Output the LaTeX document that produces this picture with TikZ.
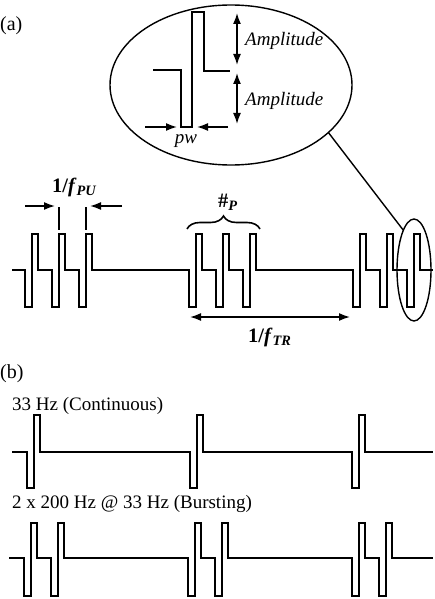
\documentclass[tikz,border=0pt]{standalone}
\usepackage{fontspec}
\setmainfont{Liberation Serif}
\usetikzlibrary{arrows.meta,shapes.geometric,decorations.pathreplacing}
\begin{document}
\begin{tikzpicture}[x=1pt,y=-1pt,
  wave/.style={line width=2pt, line join=miter},
  tip/.style={-{Latex[length=11pt,width=8pt]}},
  dim/.style={line width=1.6pt, tip},
  ddim/.style={line width=1.6pt, {Latex[length=11pt,width=8pt]}-{Latex[length=11pt,width=8pt]}},
  lbl/.style={inner sep=0pt, anchor=base west, font=\fontsize{19}{22}\selectfont},
  blbl/.style={inner sep=0pt, anchor=base west, font=\fontsize{20.5}{24}\selectfont\bfseries},
  ilbl/.style={inner sep=0pt, anchor=base west, font=\fontsize{19}{22}\selectfont\itshape},
  ell/.style={draw, ellipse, line width=1.4pt, inner sep=0pt, outer sep=0pt}
]
\useasboundingbox (0,0) rectangle (434,599);

% ---------------- panel (a) ----------------
\node[lbl, font=\fontsize{20}{24}\selectfont] (la) at (0,31) {(a)};

% pulse train
\draw[wave] (12,270) foreach \x in {25,52,79,189,216,243,353,380,407} {
  -- (\x,270) -- (\x,307) -- ({\x+7},307) -- ({\x+7},234) -- ({\x+13},234) -- ({\x+13},270) }
  -- (433,270);

% magnifier ellipses
\node[ell, minimum width=242pt, minimum height=160pt] (big) at (231,85) {};
\node[ell, minimum width=34pt, minimum height=102pt] (sm) at (414,270) {};
\draw[line width=1.4pt] (sm.105) -- (big.-26);

% enlarged pulse
\draw[wave] (153,70) -- (181,70) -- (181,127) -- (192,127) -- (192,12) -- (204,12) -- (204,71) -- (230,71);

% amplitude arrows
\coordinate (a1t) at (237,13);  \coordinate (a1b) at (237,65);
\coordinate (a2t) at (237,73);  \coordinate (a2b) at (237,124);
\draw[ddim] (a1t) -- (a1b);
\draw[ddim] (a2t) -- (a2b);
\node[ilbl] (amp1) at (245,46) {Amplitude};
\node[ilbl] (amp2) at (245,106) {Amplitude};

% pw arrows
\coordinate (pwl0) at (145,127); \coordinate (pwl1) at (177,127);
\coordinate (pwr0) at (228,127); \coordinate (pwr1) at (197,127);
\draw[dim] (pwl0) -- (pwl1);
\draw[dim] (pwr0) -- (pwr1);
\node[ilbl, anchor=base] (pw) at (186,143) {pw};

% 1/f_PU
\node[blbl] (fpu) at (52,192) {1/\textit{f}\textsubscript{\textit{PU}}};
\coordinate (t1a) at (59,207); \coordinate (t1b) at (59,230);
\coordinate (t2a) at (86,207); \coordinate (t2b) at (86,230);
\draw[line width=1.6pt] (t1a) -- (t1b);
\draw[line width=1.6pt] (t2a) -- (t2b);
\coordinate (pul0) at (25,206); \coordinate (pul1) at (55,206);
\coordinate (pur0) at (122,206); \coordinate (pur1) at (90,206);
\draw[dim] (pul0) -- (pul1);
\draw[dim] (pur0) -- (pur1);

% #_P brace
\node[blbl] (np) at (218,207) {\#\textsubscript{\textit{P}}};
\coordinate (br0) at (187,229); \coordinate (br1) at (260,229);
\draw[line width=1.6pt, decorate, decoration={brace, amplitude=13pt}] (br0) -- (br1);

% 1/f_TR
\coordinate (tr0) at (190,317); \coordinate (tr1) at (350,317);
\draw[ddim] (tr0) -- (tr1);
\node[blbl] (ftr) at (248,342) {1/\textit{f}\textsubscript{\textit{TR}}};

% ---------------- panel (b) ----------------
\node[lbl, font=\fontsize{20}{24}\selectfont] (lb) at (0,378) {(b)};
\node[lbl] (cont) at (12,410) {33 Hz (Continuous)};
\draw[wave] (12,452) foreach \x in {27,190,352} {
  -- (\x,452) -- (\x,488) -- ({\x+6.5},488) -- ({\x+6.5},415) -- ({\x+13},415) -- ({\x+13},452) }
  -- (433,452);

\node[lbl] (burst) at (12,508) {2 x 200 Hz @ 33 Hz (Bursting)};
\draw[wave] (9,558) foreach \x in {24,51,188,215,352,379} {
  -- (\x,558) -- (\x,596) -- ({\x+6.5},596) -- ({\x+6.5},523) -- ({\x+13},523) -- ({\x+13},558) }
  -- (433,558);
\end{tikzpicture}
\end{document}
